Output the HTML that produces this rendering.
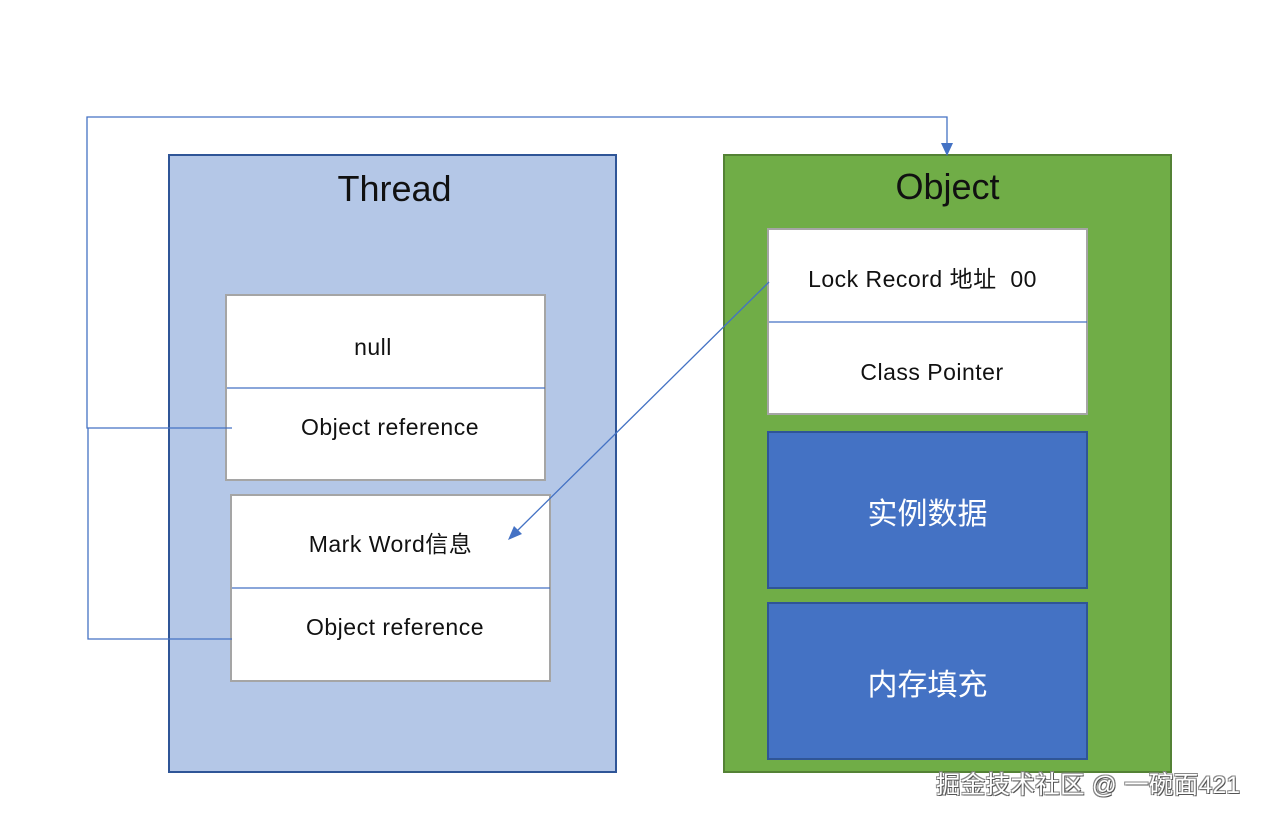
<!DOCTYPE html>
<html><head><meta charset="utf-8"><style>
body{margin:0;width:1261px;height:820px;background:#fff;position:relative;overflow:hidden;font-family:"Liberation Sans","Noto Sans CJK SC",sans-serif;}
.a{position:absolute;box-sizing:border-box;}
.t{position:absolute;width:100%;text-align:center;color:#111;}
.l{font-size:23px;letter-spacing:0.5px;}
</style></head><body>
<div class="a" style="left:168px;top:154px;width:449px;height:619px;background:#b4c7e7;border:2px solid #2f5597;"></div>
<div class="a t" style="left:170px;top:168px;width:449px;font-size:36px;">Thread</div>
<div class="a" style="left:723px;top:154px;width:449px;height:619px;background:#70ad47;border:2px solid #548235;"></div>
<div class="a t" style="left:723px;top:166px;width:449px;font-size:36px;">Object</div>

<div class="a" style="left:225px;top:294px;width:321px;height:187px;background:#fff;border:2px solid #a5a5a5;"></div>
<div class="a t l" style="left:223px;top:334px;width:300px;">null</div>
<div class="a t l" style="left:225px;top:414px;width:330px;">Object reference</div>

<div class="a" style="left:230px;top:494px;width:321px;height:188px;background:#fff;border:2px solid #a5a5a5;"></div>
<div class="a t l" style="left:230px;top:525px;width:321px;">Mark Word信息</div>
<div class="a t l" style="left:230px;top:614px;width:330px;">Object reference</div>

<div class="a" style="left:767px;top:228px;width:321px;height:187px;background:#fff;border:2px solid #a5a5a5;"></div>
<div class="a t l" style="left:762px;top:260px;width:321px;">Lock Record 地址&nbsp; 00</div>
<div class="a t l" style="left:767px;top:359px;width:330px;">Class Pointer</div>

<div class="a" style="left:767px;top:431px;width:321px;height:158px;background:#4472c4;border:2px solid #2f5597;"></div>
<div class="a t" style="left:767px;top:489px;width:321px;font-size:30px;color:#fff;">实例数据</div>
<div class="a" style="left:767px;top:602px;width:321px;height:158px;background:#4472c4;border:2px solid #2f5597;"></div>
<div class="a t" style="left:767px;top:660px;width:321px;font-size:30px;color:#fff;">内存填充</div>

<svg class="a" style="left:0;top:0" width="1261" height="820">
<g stroke="#4472c4" stroke-width="1.3" fill="none">
<line x1="227" y1="388" x2="545" y2="388"/>
<line x1="232" y1="588" x2="550" y2="588"/>
<line x1="769" y1="322" x2="1087" y2="322"/>
<polyline points="232,428 87,428 87,117 947,117 947,146"/>
<polyline points="232,639 88,639 88,428"/>
<line x1="769" y1="282" x2="516" y2="532"/>
</g>
<polygon points="947,156 941,143 953,143" fill="#4472c4"/>
<polygon points="508,540 514,526 522,534" fill="#4472c4"/>
</svg>
<div class="a" style="left:936px;top:766px;font-size:24.5px;letter-spacing:0.3px;color:#fff;text-shadow:1px 1px 0 #555,-1px -1px 0 #888,1px -1px 0 #888,-1px 1px 0 #888;white-space:nowrap;">掘金技术社区 @ 一碗面421</div>
</body></html>
